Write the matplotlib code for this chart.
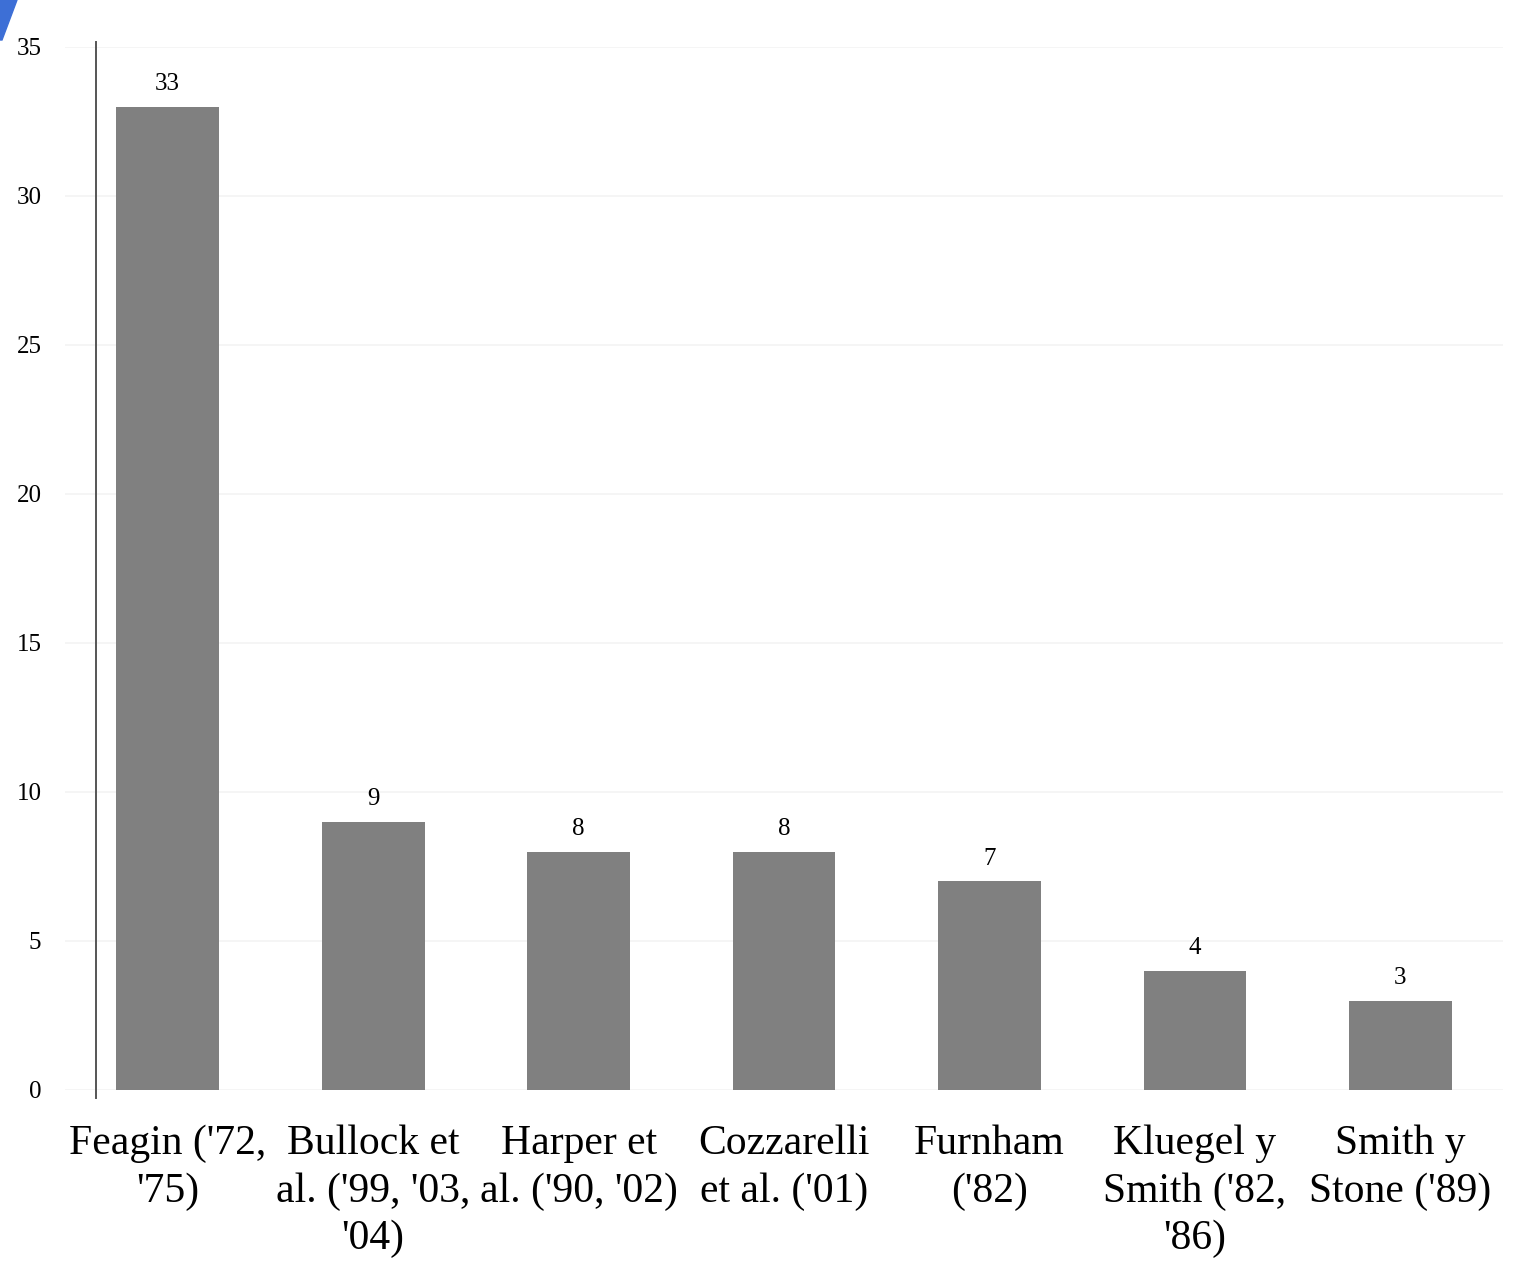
import matplotlib.pyplot as plt
from matplotlib.patches import Polygon

# Number of mentions per author group
authors = ["Feagin ('72,\n'75)", "Bullock et\nal. ('99, '03,\n'04)",
           "Harper et\nal. ('90, '02)", "Cozzarelli\net al. ('01)",
           "Furnham\n('82)", "Kluegel y\nSmith ('82,\n'86)",
           "Smith y\nStone ('89)"]
counts = [33, 9, 8, 8, 7, 4, 3]
yticks = [0, 5, 10, 15, 20, 25, 30, 35]

plt.rcParams['font.family'] = ['Liberation Serif', 'DejaVu Serif']

fig = plt.figure(figsize=(15.19, 12.63), dpi=100)
ax = fig.add_axes([0.0428, 0.137, 0.9467, 0.8258])

x = range(len(authors))
bars = ax.bar(x, counts, width=0.5, color='#808080', zorder=2)

for xi, v in zip(x, counts):
    ax.annotate(str(v), (xi, v), xytext=(0, 12), textcoords='offset points',
                ha='center', va='baseline', fontsize=18)

ax.set_xlim(-0.5, len(authors) - 0.5)
ax.set_ylim(0, 35)
ax.set_yticks(yticks)
ax.set_yticklabels([str(t) for t in yticks], fontsize=18)
ax.set_xticks(list(x))
ax.set_xticklabels(authors, fontsize=30, linespacing=1.3)
ax.tick_params(axis='both', length=0)
ax.tick_params(axis='y', pad=17)
ax.tick_params(axis='x', pad=25)

ax.grid(axis='y', color='#f3f3f3', linewidth=1.2, zorder=0)
for s in ax.spines.values():
    s.set_visible(False)

# vertical axis line, slightly offset from the plot edge
ax.plot([-0.35, -0.35], [-0.27, 35.17], color='#555555', linewidth=1.4,
        clip_on=False, zorder=3)

# small blue corner mark
fig.patches.append(Polygon([(0, 1), (17 / 1519, 1), (2 / 1519, 1 - 40 / 1263),
                            (0, 1 - 40 / 1263)], closed=True,
                           transform=fig.transFigure, color='#3d6fd6'))

fig.savefig('out.png', dpi=100)
